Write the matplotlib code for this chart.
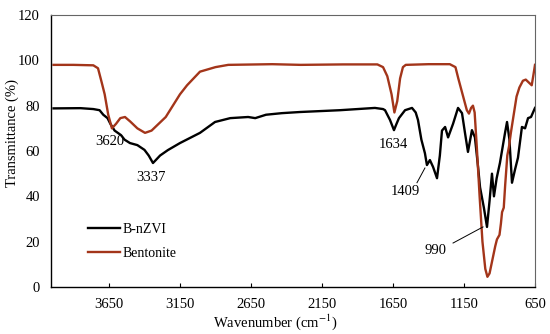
import matplotlib
matplotlib.use("Agg")
import matplotlib.pyplot as plt

plt.rcParams['font.family'] = ['Liberation Serif', 'DejaVu Serif']
plt.rcParams['mathtext.fontset'] = 'stix'

# Bentonite spectrum
bent_wn = [4040, 3900, 3760, 3727, 3700, 3680, 3655, 3629, 3600, 3570, 3537, 3500, 3450, 3396,
           3350, 3300, 3250, 3200, 3150, 3100, 3009, 2900, 2810, 2500, 2300, 2000, 1760, 1720,
           1690, 1660, 1640, 1620, 1600, 1580, 1560, 1400, 1250, 1210, 1190, 1160, 1130, 1115,
           1100, 1087, 1075, 1060, 1040, 1020, 1000, 985, 970, 950, 930, 918, 900, 890, 882,
           870, 860, 845, 833, 820, 800, 780, 760, 735, 715, 690, 673, 660, 650]
bent_t = [98, 98, 97.8, 96.5, 90, 85, 76, 70, 72, 74.5, 75, 73, 70, 68,
          69, 72, 75, 80, 85, 89, 95, 97, 98, 98.3, 98, 98.2, 98.2, 97,
          93, 85, 77, 82, 92, 97, 98, 98.3, 98.3, 97, 92, 85, 78, 76.5,
          79, 80, 77, 62, 40, 20, 8, 4.5, 6, 12, 18, 21, 23, 28, 33,
          35, 45, 58, 62, 68, 76, 84, 88, 91, 91.5, 90, 89, 94, 98]

# B-nZVI spectrum
bnz_wn = [4040, 3850, 3760, 3716, 3690, 3660, 3640, 3610, 3565, 3540, 3502, 3450, 3400, 3370,
          3340, 3320, 3290, 3235, 3150, 3009, 2903, 2796, 2670, 2620, 2544, 2432, 2305, 2023,
          1777, 1720, 1706, 1671, 1643, 1625, 1608, 1565, 1516, 1490, 1474, 1450, 1425, 1411,
          1390, 1368, 1340, 1320, 1305, 1283, 1262, 1227, 1192, 1164, 1143, 1122, 1094, 1073,
          1051, 1037, 1010, 988, 970, 953, 939, 920, 897, 861, 847, 830, 812, 790, 770, 742,
          720, 699, 678, 650]
bnz_t = [78.8, 78.9, 78.5, 78, 76, 74.5, 72, 69, 67, 65, 63.5, 62.6, 60.5, 58,
         54.7, 56, 58, 60.4, 63.5, 68, 72.8, 74.5, 75, 74.5, 76, 76.7, 77.2, 78,
         79, 78.5, 78, 73.7, 69.2, 72, 74.5, 78, 79, 77, 73.7, 65, 59, 53.8,
         56, 53, 48, 58, 69, 70.6, 66, 72, 79, 76.7, 68, 59.6, 69.2, 66,
         53, 44, 35, 26.5, 38, 50, 40, 48, 54.7, 68, 72.8, 65, 46, 52, 57, 70.6,
         70, 74.5, 75, 79]

xticks = [3650, 3150, 2650, 2150, 1650, 1150, 650]
yticks = [0, 20, 40, 60, 80, 100, 120]

fig = plt.figure(figsize=(5.5, 3.34), dpi=100)
ax = fig.add_axes([51/550, 1-287/334, (535-51)/550, (287-15)/334])

ax.plot(bnz_wn, bnz_t, color='black', lw=1.7, label='B-nZVI')
ax.plot(bent_wn, bent_t, color='#A3351A', lw=1.7, label='Bentonite')

ax.set_xlim(4058, 650)
ax.set_ylim(0, 120)
ax.set_xticks(xticks)
ax.set_yticks(yticks)
ax.tick_params(axis='x', direction='in', length=3, labelsize=10.5, pad=8, color='black')
ax.tick_params(axis='y', length=0, labelsize=10.5, pad=8)
for s in ['left', 'bottom']:
    ax.spines[s].set_color('black')
    ax.spines[s].set_linewidth(1.0)
for s in ['top', 'right']:
    ax.spines[s].set_color('#666666')
    ax.spines[s].set_linewidth(0.8)

ax.set_xlabel('Wavenumber (cm$^{-1}$)', fontsize=10.5)
ax.set_ylabel('Transmittance (%)', fontsize=10.5)
ax.xaxis.set_label_coords((275 - 51) / 484, -(312 - 287) / 272)
ax.yaxis.set_label_coords(-(51 - 19) / 484, (287 - 133) / 272)

fs = 10.5
ax.text(3643, 64, '3620', ha='center', va='center', fontsize=fs)
ax.text(3355, 48.5, '3337', ha='center', va='center', fontsize=fs)
ax.text(1650, 63, '1634', ha='center', va='center', fontsize=fs)
ax.text(1565, 42, '1409', ha='center', va='center', fontsize=fs)
ax.plot([1481, 1425], [46, 52.5], color='black', lw=0.7)
ax.text(1354, 16.3, '990', ha='center', va='center', fontsize=fs)
ax.plot([1227, 1016], [19.4, 26.5], color='black', lw=0.7)

ax.legend(loc='upper left', bbox_to_anchor=(0.065, 0.255), frameon=False, fontsize=10,
          handlelength=2.3, handletextpad=0.2, labelspacing=0.8, borderaxespad=0)

fig.savefig('out.png', dpi=100)
